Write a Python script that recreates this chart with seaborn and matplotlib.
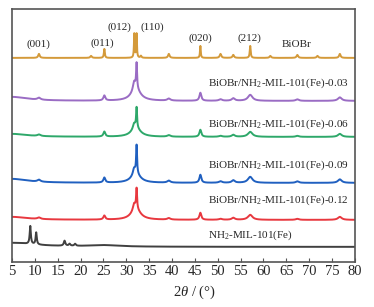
import numpy as np
import pandas as pd
import seaborn as sns
import matplotlib.pyplot as plt

# sample names (top to bottom) and colours
samples = ['BiOBr', 'BiOBr/NH$_2$-MIL-101(Fe)-0.03', 'BiOBr/NH$_2$-MIL-101(Fe)-0.06',
           'BiOBr/NH$_2$-MIL-101(Fe)-0.09', 'BiOBr/NH$_2$-MIL-101(Fe)-0.12', 'NH$_2$-MIL-101(Fe)']
colors = ['#D49A3A', '#9A6CC4', '#2EA86A', '#2060C0', '#E8383F', '#404040']
offsets = [204, 161, 125, 79, 42, 15]

# peak tables: position (deg), height, width (HWHM)
bio_pos = [10.9, 22.3, 25.2, 31.75, 32.25, 33.2, 39.3, 46.2, 50.6, 53.4, 57.1, 61.5, 67.4, 71.8, 76.7]
bio_h = [4, 2, 9, 24, 24, 2, 4, 12, 4, 3, 12, 2, 3, 2, 4]
bio_w = [0.2, 0.2, 0.12, 0.09, 0.09, 0.15, 0.2, 0.1, 0.2, 0.2, 0.12, 0.2, 0.2, 0.2, 0.2]

comp_pos = [5.0, 10.9, 25.2, 31.7, 32.1, 32.25, 39.3, 46.2, 50.6, 53.4, 57.1, 67.4, 76.7]
comp_w = [4.0, 0.4, 0.25, 0.3, 1.2, 0.12, 0.4, 0.25, 0.4, 0.4, 0.6, 0.4, 0.5]
h_003 = [4, 2, 5, 8, 12, 25, 2, 8, 1.5, 2.5, 6, 1.5, 3.5]
h_006 = [3, 1.5, 5, 5, 9, 20, 1.5, 7, 1, 2, 5, 1, 3]
h_009 = [4, 2, 5, 6, 9, 28, 2, 8, 1.5, 2.5, 6, 1.5, 3.5]
h_012 = [3, 1.5, 4, 6, 11, 20, 1.5, 7, 1, 2, 5, 1, 3]

mil_pos = [5.0, 9.0, 10.3, 16.5, 17.6, 18.8, 25.0]
mil_h = [4, 18, 12, 5, 2, 2, 1.5]
mil_w = [6.0, 0.15, 0.15, 0.2, 0.2, 0.2, 4.0]

peak_tables = [(bio_pos, bio_h, bio_w), (comp_pos, h_003, comp_w), (comp_pos, h_006, comp_w),
               (comp_pos, h_009, comp_w), (comp_pos, h_012, comp_w), (mil_pos, mil_h, mil_w)]

peak_labels = ['(001)', '(011)', '(012)', '(110)', '(020)', '(212)']
peak_label_x = [10.7, 24.7, 28.6, 35.6, 46.1, 57.0]
peak_label_y = [218, 219, 235, 235, 224, 224]

two_theta = np.arange(5, 80.01, 0.025)

rows = []
for name, off, (pos, h, w) in zip(samples, offsets, peak_tables):
    y = np.full_like(two_theta, off, dtype=float)
    for p, hh, ww in zip(pos, h, w):
        y += hh * ww**2 / ((two_theta - p)**2 + ww**2)
    rows.append(pd.DataFrame({'2theta': two_theta, 'I': y, 'sample': name}))
df = pd.concat(rows)

sns.set_style('ticks')
plt.rcParams['font.family'] = ['Liberation Serif', 'DejaVu Serif']
plt.rcParams['mathtext.fontset'] = 'custom'
plt.rcParams['mathtext.rm'] = 'Liberation Serif'
plt.rcParams['mathtext.it'] = 'Liberation Serif:italic'

fig = plt.figure(figsize=(3.74, 3.07), dpi=100)
ax = fig.add_axes([0.032, 0.147, 0.917, 0.824])

sns.lineplot(data=df, x='2theta', y='I', hue='sample', hue_order=samples,
             palette=colors, linewidth=1.4, legend=False, ax=ax)

for s, lx, ly in zip(peak_labels, peak_label_x, peak_label_y):
    ax.text(lx, ly, s, ha='center', va='center', fontsize=8)
ax.text(67.3, 217, 'BiOBr', ha='center', va='center', fontsize=8)
for name, ly in zip(samples[1:], [179, 138, 97, 62, 27]):
    ax.text(47.8, ly, name, ha='left', va='center', fontsize=8)

ax.set_xlim(5, 80)
ax.set_ylim(0, 253)
ax.set_xticks(range(5, 81, 5))
ax.set_yticks([])
ax.tick_params(axis='x', direction='in', length=3, labelsize=10.5, pad=2, color='#555555')
ax.set_xlabel(r'2$\it{\theta}$ / (°)', fontsize=10.5)
ax.xaxis.set_label_coords(0.533, -0.087)
ax.set_ylabel('')
for sp in ax.spines.values():
    sp.set_color('#555555')
    sp.set_linewidth(1.2)

fig.savefig('out.png', dpi=100)
